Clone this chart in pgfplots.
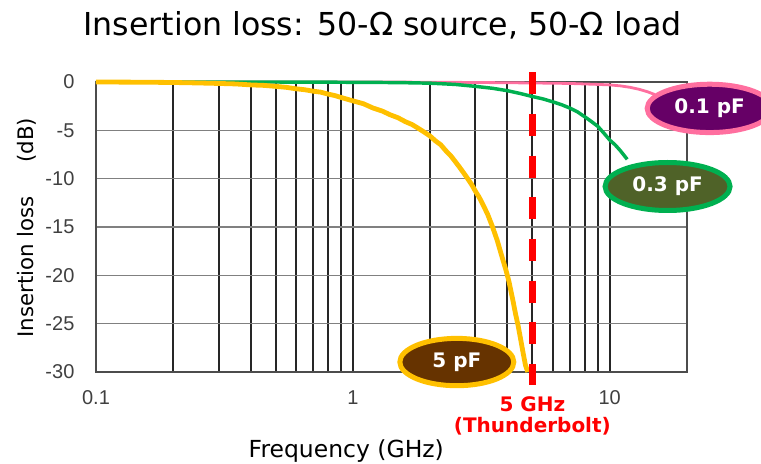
\documentclass[border=0pt]{standalone}
\usepackage{fontspec}
\setmainfont{DejaVu Sans}
\newfontfamily\tickfont{Liberation Sans}
\usepackage{pgfplots}
\pgfplotsset{compat=1.18}
\usetikzlibrary{shapes.geometric}

\definecolor{gold}{HTML}{FFC000}
\definecolor{grn}{HTML}{00B050}
\definecolor{pnk}{HTML}{FF6F9F}
\definecolor{purp}{HTML}{660066}
\definecolor{olivedk}{HTML}{4F6228}
\definecolor{brwn}{HTML}{663300}

\begin{document}
\begin{tikzpicture}
\begin{axis}[
  name=ax,
  scale only axis, width=443.25pt, height=217.5pt,
  xmode=log, xmin=0.1, xmax=20, ymin=-30, ymax=0,
  clip=false,
  xtick={0.1,1,10}, xticklabels={0.1,1,10},
  minor xtick={0.2,0.3,0.4,0.5,0.6,0.7,0.8,0.9,2,3,4,5,6,7,8,9},
  ytick={0,-5,-10,-15,-20,-25,-30},
  yticklabels={0,-5,-10,-15,-20,-25,-30},
  major tick length=0pt, minor tick length=0pt,
  xmajorgrids, xminorgrids, ymajorgrids,
  major x grid style={black!85, line width=1.5pt},
  minor x grid style={black!85, line width=1.5pt},
  major y grid style={black!50, line width=1.2pt},
  axis line style={black!70, line width=1.4pt},
  tick label style={font=\tickfont\fontsize{15}{18}\selectfont, text=black!75, inner sep=0pt},
  xticklabel style={anchor=north, yshift=-14pt},
  yticklabel style={anchor=east, xshift=-16pt},
]
\addplot[pnk, line width=2.1pt] coordinates {
  (0.1,0) (1,0) (2,-0.02) (3,-0.05) (5,-0.1) (7,-0.15) (9,-0.25) (10,-0.3)
  (11,-0.4) (12,-0.55) (13,-0.75) (14,-1.0) (15,-1.3)};
\addplot[grn, line width=2.6pt] coordinates {
  (0.1,0) (0.5,0) (1,-0.03) (1.5,-0.06) (2,-0.12) (2.5,-0.25) (3,-0.45)
  (3.5,-0.65) (4,-0.9) (4.5,-1.2) (5,-1.5) (5.5,-1.75) (6,-2.05) (6.5,-2.35)
  (7,-2.7) (7.5,-3.1) (8,-3.6) (8.5,-4.1) (9,-4.6) (9.5,-5.3) (10,-6.0)
  (10.5,-6.5) (11,-7.1) (11.7,-8.0)};
\addplot[gold, line width=3.6pt] coordinates {
  (0.1,0) (0.15,-0.02) (0.2,-0.05) (0.25,-0.1) (0.3,-0.15) (0.35,-0.2)
  (0.4,-0.3) (0.45,-0.35) (0.5,-0.45) (0.55,-0.55) (0.6,-0.7) (0.65,-0.8)
  (0.7,-0.95) (0.75,-1.05) (0.8,-1.25) (0.85,-1.4) (0.9,-1.6) (1.0,-1.95)
  (1.1,-2.25) (1.2,-2.7) (1.3,-3.0) (1.4,-3.4) (1.5,-3.7) (1.6,-4.1)
  (1.7,-4.4) (1.8,-4.8) (1.9,-5.2) (2.0,-5.6) (2.1,-6.1) (2.2,-6.5)
  (2.3,-7.1) (2.4,-7.6) (2.5,-8.2) (2.6,-8.8) (2.7,-9.4) (2.8,-10.0)
  (2.9,-10.6) (3.0,-11.3) (3.1,-11.9) (3.2,-12.6) (3.35,-13.7) (3.5,-15.0)
  (3.65,-16.4) (3.8,-18.0) (3.95,-19.5) (4.05,-20.6) (4.2,-22.6) (4.3,-24.0)
  (4.4,-25.2) (4.5,-26.6) (4.6,-28.0) (4.7,-29.3) (4.8,-30)};
\addplot[red, line width=5pt, dash pattern=on 16.5pt off 14.8pt] coordinates {(5,1.03) (5,-31.3)};

% title and axis labels
\node[anchor=base, inner sep=0pt, font=\fontsize{23.7}{28}\selectfont]
  at (axis description cs:0.485,1.162) {Insertion loss: 50-Ω source, 50-Ω load};
\node[anchor=base, inner sep=0pt, font=\fontsize{17.6}{21}\selectfont]
  at (axis cs:0.943,-38.87) {Frequency (GHz)};
\node[anchor=base west, rotate=90, inner sep=0pt, font=\fontsize{16}{19}\selectfont]
  at (axis cs:0.0569,-26.48) {Insertion loss};
\node[anchor=base west, rotate=90, inner sep=0pt, font=\fontsize{16}{19}\selectfont]
  at (axis cs:0.0569,-8.38) {(dB)};

% 5 GHz marker text
\node[anchor=base, inner sep=0pt, text=red, font=\bfseries\fontsize{15}{18}\selectfont]
  at (axis cs:5,-34.1) {5 GHz};
\node[anchor=base, inner sep=0pt, text=red, font=\bfseries\fontsize{15}{18}\selectfont]
  at (axis cs:5,-36.3) {(Thunderbolt)};

% capacitance callouts
\node[ellipse, overlay, draw=pnk, line width=3.75pt, fill=purp, text=white,
  inner sep=0pt, minimum width=93.75pt, minimum height=36.25pt,
  font=\bfseries\fontsize{15}{18}\selectfont] at (axis cs:24.5,-2.73) {0.1 pF};
\node[ellipse, draw=grn, line width=3.75pt, fill=olivedk, text=white,
  inner sep=0pt, minimum width=93.75pt, minimum height=36pt,
  font=\bfseries\fontsize{15}{18}\selectfont] at (axis cs:16.8,-10.81) {0.3 pF};
\node[ellipse, draw=gold, line width=3.75pt, fill=brwn, text=white,
  inner sep=0pt, minimum width=85.5pt, minimum height=35.5pt,
  font=\bfseries\fontsize{15}{18}\selectfont] at (axis cs:2.54,-28.97) {5 pF};
\end{axis}
\path[use as bounding box] ([xshift=-72pt,yshift=-69pt]ax.south west)
  rectangle ([xshift=55.5pt,yshift=61.5pt]ax.north east);
\end{tikzpicture}
\end{document}
